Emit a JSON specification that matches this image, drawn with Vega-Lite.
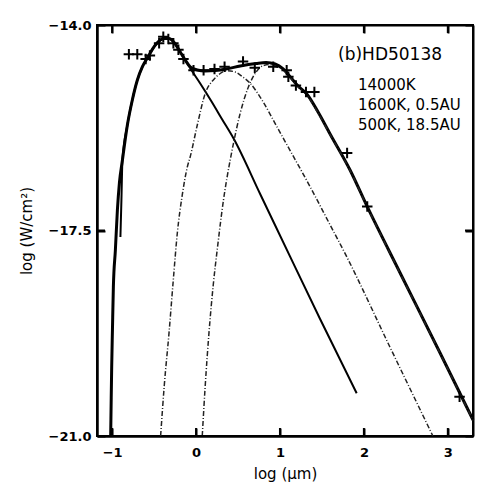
{
  "$schema": "https://vega.github.io/schema/vega-lite/v6.json",
  "autosize": {"type": "none"},
  "width": 376,
  "height": 411,
  "padding": {"left": 97, "top": 25, "right": 15, "bottom": 55},
  "background": "white",
  "config": {
    "view": {"stroke": "black", "strokeWidth": 2},
    "axis": {"grid": false, "ticks": true, "domainColor": "black", "labelColor": "black", "titleColor": "black", "zindex": 1}
  },
  "datasets": {
    "total": [
      {"x": -1.017, "y": -21.0}, {"x": -1.011, "y": -20.387}, {"x": -1.005, "y": -19.825}, {"x": -0.996, "y": -19.195},
      {"x": -0.985, "y": -18.462}, {"x": -0.961, "y": -17.832}, {"x": -0.937, "y": -17.151}, {"x": -0.913, "y": -16.691},
      {"x": -0.877, "y": -16.299}, {"x": -0.818, "y": -15.703}, {"x": -0.759, "y": -15.277}, {"x": -0.699, "y": -14.937},
      {"x": -0.64, "y": -14.715}, {"x": -0.58, "y": -14.562}, {"x": -0.485, "y": -14.341}, {"x": -0.425, "y": -14.255},
      {"x": -0.366, "y": -14.221}, {"x": -0.307, "y": -14.238}, {"x": -0.247, "y": -14.324}, {"x": -0.188, "y": -14.46},
      {"x": -0.129, "y": -14.596}, {"x": -0.069, "y": -14.715}, {"x": 0.015, "y": -14.766}, {"x": 0.11, "y": -14.783},
      {"x": 0.229, "y": -14.775}, {"x": 0.36, "y": -14.749}, {"x": 0.527, "y": -14.698}, {"x": 0.716, "y": -14.656},
      {"x": 0.835, "y": -14.639}, {"x": 0.942, "y": -14.664}, {"x": 1.038, "y": -14.749}, {"x": 1.121, "y": -14.881},
      {"x": 1.216, "y": -15.039}, {"x": 1.32, "y": -15.175}, {"x": 1.454, "y": -15.482}, {"x": 1.597, "y": -15.856},
      {"x": 1.835, "y": -16.47}, {"x": 2.04, "y": -17.095}, {"x": 2.429, "y": -18.215}, {"x": 2.905, "y": -19.578},
      {"x": 3.301, "y": -20.728}
    ],
    "star": [
      {"x": -0.901, "y": -17.611}, {"x": -0.889, "y": -16.981}, {"x": -0.877, "y": -16.299}, {"x": -0.818, "y": -15.703},
      {"x": -0.759, "y": -15.277}, {"x": -0.699, "y": -14.937}, {"x": -0.64, "y": -14.715}, {"x": -0.58, "y": -14.562},
      {"x": -0.485, "y": -14.341}, {"x": -0.425, "y": -14.255}, {"x": -0.366, "y": -14.221}, {"x": -0.307, "y": -14.238},
      {"x": -0.247, "y": -14.324}, {"x": -0.188, "y": -14.46}, {"x": -0.129, "y": -14.596}, {"x": -0.069, "y": -14.737},
      {"x": 0.05, "y": -14.996}, {"x": 0.181, "y": -15.294}, {"x": 0.312, "y": -15.609}, {"x": 0.446, "y": -15.93},
      {"x": 0.764, "y": -16.878}, {"x": 1.121, "y": -17.946}, {"x": 1.478, "y": -19.007}, {"x": 1.914, "y": -20.273}
    ],
    "warm": [
      {"x": -0.422, "y": -21.0}, {"x": -0.378, "y": -20.132}, {"x": -0.322, "y": -19.246}, {"x": -0.271, "y": -18.343},
      {"x": -0.223, "y": -17.543}, {"x": -0.164, "y": -16.895}, {"x": -0.104, "y": -16.419}, {"x": -0.069, "y": -16.243},
      {"x": 0.015, "y": -15.703}, {"x": 0.11, "y": -15.163}, {"x": 0.217, "y": -14.92}, {"x": 0.288, "y": -14.826},
      {"x": 0.368, "y": -14.778}, {"x": 0.467, "y": -14.801}, {"x": 0.55, "y": -14.877}, {"x": 0.645, "y": -14.993},
      {"x": 0.8, "y": -15.311}, {"x": 0.963, "y": -15.732}, {"x": 1.157, "y": -16.23}, {"x": 1.359, "y": -16.754},
      {"x": 1.573, "y": -17.338}, {"x": 1.795, "y": -17.946}, {"x": 2.31, "y": -19.484}, {"x": 2.822, "y": -21.0}
    ],
    "cold": [
      {"x": 0.074, "y": -21.0}, {"x": 0.11, "y": -20.132}, {"x": 0.154, "y": -19.246}, {"x": 0.205, "y": -18.428},
      {"x": 0.252, "y": -17.832}, {"x": 0.327, "y": -16.981}, {"x": 0.407, "y": -16.299}, {"x": 0.446, "y": -16.015},
      {"x": 0.526, "y": -15.504}, {"x": 0.625, "y": -15.051}, {"x": 0.716, "y": -14.8}, {"x": 0.803, "y": -14.69},
      {"x": 0.883, "y": -14.673}, {"x": 0.966, "y": -14.715}, {"x": 1.038, "y": -14.766}, {"x": 1.121, "y": -14.894},
      {"x": 1.216, "y": -15.056}, {"x": 1.32, "y": -15.192}, {"x": 1.454, "y": -15.499}, {"x": 1.597, "y": -15.865},
      {"x": 1.835, "y": -16.478}, {"x": 2.04, "y": -17.1}, {"x": 2.429, "y": -18.224}, {"x": 2.905, "y": -19.586},
      {"x": 3.301, "y": -20.736}
    ],
    "obs": [
      {"x": -0.8, "y": -14.5}, {"x": -0.7, "y": -14.5}, {"x": -0.6, "y": -14.58}, {"x": -0.55, "y": -14.52},
      {"x": -0.44, "y": -14.31}, {"x": -0.39, "y": -14.2}, {"x": -0.33, "y": -14.24}, {"x": -0.27, "y": -14.31},
      {"x": -0.21, "y": -14.42}, {"x": -0.15, "y": -14.58}, {"x": -0.03, "y": -14.77}, {"x": 0.09, "y": -14.77},
      {"x": 0.22, "y": -14.75}, {"x": 0.34, "y": -14.71}, {"x": 0.56, "y": -14.62}, {"x": 0.7, "y": -14.73},
      {"x": 0.92, "y": -14.71}, {"x": 1.08, "y": -14.77}, {"x": 1.1, "y": -14.88}, {"x": 1.19, "y": -15.03},
      {"x": 1.31, "y": -15.14}, {"x": 1.41, "y": -15.14}, {"x": 1.8, "y": -16.18}, {"x": 2.04, "y": -17.09},
      {"x": 3.14, "y": -20.33}
    ],
    "xticks": [{"t": -1}, {"t": 0}, {"t": 1}, {"t": 2}, {"t": 3}],
    "yticks": [{"t": -17.5}]
  },
  "layer": [
    {
      "data": {"name": "star"},
      "mark": {"type": "line", "color": "black", "strokeWidth": 2, "interpolate": "monotone"},
      "encoding": {
        "x": {"field": "x", "type": "quantitative",
          "scale": {"domain": [-1.18, 3.3], "nice": false, "zero": false},
          "axis": {"orient": "bottom", "values": [-1, 0, 1, 2, 3], "format": "d", "title": "log (μm)",
            "tickSize": -8, "tickWidth": 2, "tickColor": "black", "domainWidth": 2.5, "labelFont": "DejaVu Sans", "labelFontWeight": "bold",
            "labelFontSize": 13, "labelPadding": 18, "labelFlush": false, "labelOverlap": false,
            "titleFont": "DejaVu Sans", "titleFontSize": 15, "titleFontWeight": "normal", "titlePadding": 7}},
        "y": {"field": "y", "type": "quantitative",
          "scale": {"domain": [-21, -14], "nice": false, "zero": false},
          "axis": {"orient": "left", "values": [-21, -17.5, -14], "format": ".1f", "title": "log (W/cm²)",
            "tickSize": -8, "tickWidth": 2, "tickColor": "black", "domainWidth": 2.5, "labelFont": "DejaVu Sans", "labelFontWeight": "bold",
            "labelFontSize": 13, "labelPadding": 14, "labelFlush": false, "labelOverlap": false,
            "titleFont": "DejaVu Sans", "titleFontSize": 15, "titleFontWeight": "normal", "titlePadding": 14}}
      }
    },
    {
      "data": {"name": "total"},
      "mark": {"type": "line", "color": "black", "strokeWidth": 3, "interpolate": "monotone"},
      "encoding": {
        "x": {"field": "x", "type": "quantitative", "axis": null},
        "y": {"field": "y", "type": "quantitative", "axis": null}
      }
    },
    {
      "data": {"name": "warm"},
      "mark": {"type": "line", "color": "#222222", "strokeWidth": 1.5, "strokeDash": [5, 2, 1, 2], "interpolate": "monotone"},
      "encoding": {
        "x": {"field": "x", "type": "quantitative", "axis": null},
        "y": {"field": "y", "type": "quantitative", "axis": null}
      }
    },
    {
      "data": {"name": "cold"},
      "mark": {"type": "line", "color": "#222222", "strokeWidth": 1.5, "strokeDash": [5, 2, 1, 2], "interpolate": "monotone"},
      "encoding": {
        "x": {"field": "x", "type": "quantitative", "axis": null},
        "y": {"field": "y", "type": "quantitative", "axis": null}
      }
    },
    {
      "data": {"name": "obs"},
      "mark": {"type": "point", "shape": "M-1,0H1M0,-1V1", "filled": false, "stroke": "black", "strokeWidth": 2, "size": 110, "opacity": 1},
      "encoding": {
        "x": {"field": "x", "type": "quantitative",
          "axis": {"orient": "top", "values": [-1, 0, 1, 2, 3], "labels": false, "title": null, "tickSize": -8, "tickWidth": 2, "tickColor": "black", "domainWidth": 2}},
        "y": {"field": "y", "type": "quantitative",
          "axis": {"orient": "right", "values": [-21, -17.5, -14], "labels": false, "title": null, "tickSize": -8, "tickWidth": 2, "tickColor": "black", "domainWidth": 2}}
      }
    },
    {
      "data": {"name": "xticks"},
      "mark": {"type": "tick", "orient": "vertical", "color": "black", "size": 16, "thickness": 2, "clip": true, "opacity": 1},
      "encoding": {
        "x": {"field": "t", "type": "quantitative", "axis": null},
        "y": {"datum": -21, "type": "quantitative", "axis": null}
      }
    },
    {
      "data": {"name": "xticks"},
      "mark": {"type": "tick", "orient": "vertical", "color": "black", "size": 16, "thickness": 2, "clip": true, "opacity": 1},
      "encoding": {
        "x": {"field": "t", "type": "quantitative", "axis": null},
        "y": {"datum": -14, "type": "quantitative", "axis": null}
      }
    },
    {
      "data": {"name": "xticks"},
      "mark": {"type": "tick", "orient": "horizontal", "color": "black", "size": 16, "thickness": 2, "clip": true, "opacity": 1},
      "encoding": {
        "x": {"field": "t", "type": "quantitative", "axis": null},
        "y": {"datum": -21, "type": "quantitative", "axis": null}
      }
    },
    {
      "data": {"name": "xticks"},
      "mark": {"type": "tick", "orient": "horizontal", "color": "black", "size": 16, "thickness": 2, "clip": true, "opacity": 1},
      "encoding": {
        "x": {"field": "t", "type": "quantitative", "axis": null},
        "y": {"datum": -14, "type": "quantitative", "axis": null}
      }
    },
    {
      "data": {"name": "yticks"},
      "mark": {"type": "rule", "color": "black", "strokeWidth": 2},
      "encoding": {
        "y": {"field": "t", "type": "quantitative", "axis": null},
        "x": {"datum": -1.18, "type": "quantitative", "axis": null},
        "x2": {"datum": -1.085}
      }
    },
    {
      "data": {"name": "yticks"},
      "mark": {"type": "rule", "color": "black", "strokeWidth": 2},
      "encoding": {
        "y": {"field": "t", "type": "quantitative", "axis": null},
        "x": {"datum": 3.3, "type": "quantitative", "axis": null},
        "x2": {"datum": 3.205}
      }
    },
    {
      "data": {"values": [{"label": "(b)HD50138"}]},
      "mark": {"type": "text", "align": "left", "baseline": "middle", "font": "DejaVu Sans", "fontSize": 17, "color": "black"},
      "encoding": {
        "x": {"datum": 1.692, "type": "quantitative", "axis": null},
        "y": {"datum": -14.506, "type": "quantitative", "axis": null},
        "text": {"field": "label"}
      }
    },
    {
      "data": {"values": [{"label": "14000K"}]},
      "mark": {"type": "text", "align": "left", "baseline": "middle", "font": "DejaVu Sans", "fontSize": 15, "color": "black",
        "text": ["14000K", "1600K, 0.5AU", "500K, 18.5AU"], "lineHeight": 20},
      "encoding": {
        "x": {"datum": 1.93, "type": "quantitative", "axis": null},
        "y": {"datum": -15.03, "type": "quantitative", "axis": null}
      }
    }
  ]
}
